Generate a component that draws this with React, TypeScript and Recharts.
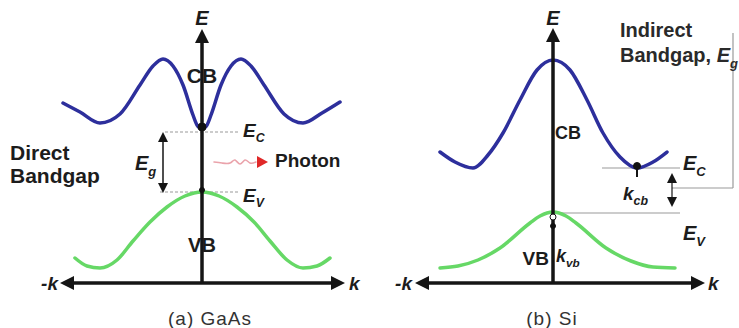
import React from 'react'
import { LineChart, Line, XAxis, YAxis, ReferenceLine, ReferenceDot } from 'recharts'

// band shapes; k and E in arbitrary units (origin at the axes crossing)
const gaasCB = [
  { k: -1.39, e: 1.8 }, { k: -1.22, e: 1.71 }, { k: -1.02, e: 1.6 }, { k: -0.82, e: 1.69 },
  { k: -0.62, e: 1.98 }, { k: -0.49, e: 2.17 }, { k: -0.39, e: 2.24 }, { k: -0.29, e: 2.17 },
  { k: -0.19, e: 1.98 }, { k: -0.09, e: 1.68 }, { k: -0.05, e: 1.58 }, { k: 0, e: 1.54 },
  { k: 0.05, e: 1.58 }, { k: 0.09, e: 1.68 }, { k: 0.19, e: 1.98 }, { k: 0.29, e: 2.17 },
  { k: 0.39, e: 2.24 }, { k: 0.49, e: 2.17 }, { k: 0.62, e: 1.98 }, { k: 0.82, e: 1.69 },
  { k: 1.01, e: 1.6 }, { k: 1.2, e: 1.7 }, { k: 1.38, e: 1.81 },
]
const gaasVB = [
  { k: -1.27, e: 0.25 }, { k: -1.15, e: 0.17 }, { k: -1.02, e: 0.15 }, { k: -0.85, e: 0.23 },
  { k: -0.69, e: 0.42 }, { k: -0.52, e: 0.61 }, { k: -0.35, e: 0.76 }, { k: -0.17, e: 0.87 },
  { k: 0, e: 0.91 }, { k: 0.17, e: 0.87 }, { k: 0.35, e: 0.76 }, { k: 0.52, e: 0.61 },
  { k: 0.68, e: 0.42 }, { k: 0.85, e: 0.23 }, { k: 1.01, e: 0.15 }, { k: 1.15, e: 0.17 },
  { k: 1.28, e: 0.25 },
]
const siCB = [
  { k: -1.13, e: 1.31 }, { k: -0.98, e: 1.21 }, { k: -0.8, e: 1.15 }, { k: -0.65, e: 1.28 },
  { k: -0.5, e: 1.5 }, { k: -0.33, e: 1.83 }, { k: -0.16, e: 2.13 }, { k: 0, e: 2.23 },
  { k: 0.17, e: 2.13 }, { k: 0.34, e: 1.83 }, { k: 0.5, e: 1.5 }, { k: 0.67, e: 1.26 },
  { k: 0.84, e: 1.15 }, { k: 1.0, e: 1.21 }, { k: 1.14, e: 1.31 },
]
const siVB = [
  { k: -1.13, e: 0.15 }, { k: -0.95, e: 0.17 }, { k: -0.75, e: 0.23 }, { k: -0.53, e: 0.35 },
  { k: -0.23, e: 0.6 }, { k: -0.13, e: 0.67 }, { k: 0, e: 0.71 }, { k: 0.13, e: 0.67 },
  { k: 0.23, e: 0.6 }, { k: 0.53, e: 0.35 }, { k: 0.78, e: 0.22 }, { k: 1.0, e: 0.16 },
  { k: 1.22, e: 0.15 },
]
const photonWave = [
  { k: 0.12, e: 1.21 }, { k: 0.2, e: 1.2 }, { k: 0.28, e: 1.2 }, { k: 0.33, e: 1.23 },
  { k: 0.38, e: 1.19 }, { k: 0.43, e: 1.23 }, { k: 0.48, e: 1.2 }, { k: 0.54, e: 1.21 },
]

const AXIS = '#151515'
const GREY = '#9a9a9a'
const BLUE = '#2d2f9c'
const GREEN = '#66d866'
const FONT = '"Liberation Sans", Arial, sans-serif'
const H = 328
const E_DOMAIN = [-0.45, 2.83]

type Part = { t: string; i?: boolean; sub?: boolean }
type Lbl = { k: number; e: number; parts: Part[]; size: number; bold?: boolean; anchor?: 'start' | 'middle' | 'end'; color?: string; spacing?: number }

function arrowHead(dir: string, len: number, half: number) {
  return (p: any) => {
    const { cx, cy } = p
    if (cx == null || cy == null) return <g />
    let pts = ''
    if (dir === 'up') pts = `${cx},${cy} ${cx - half},${cy + len} ${cx + half},${cy + len}`
    if (dir === 'down') pts = `${cx},${cy} ${cx - half},${cy - len} ${cx + half},${cy - len}`
    if (dir === 'left') pts = `${cx},${cy} ${cx + len},${cy - half} ${cx + len},${cy + half}`
    if (dir === 'right') pts = `${cx},${cy} ${cx - len},${cy - half} ${cx - len},${cy + half}`
    return <polygon points={pts} fill={AXIS} />
  }
}

function redHead(p: any) {
  const { cx, cy } = p
  return <polygon points={`${cx},${cy} ${cx - 11},${cy - 6} ${cx - 11},${cy + 6}`} fill="#e02828" />
}

function renderLabel(p: any, l: Lbl) {
  const { cx, cy } = p
  return (
    <text x={cx} y={cy} fontFamily={FONT} fontSize={l.size} fontWeight={l.bold ? 'bold' : 'normal'}
      textAnchor={l.anchor || 'start'} fill={l.color || '#1c1c1c'} letterSpacing={l.spacing || 0}>
      {l.parts.map((pt, i) => (
        <tspan key={i} fontStyle={pt.i ? 'italic' : 'normal'}
          fontSize={pt.sub ? l.size * 0.65 : l.size} dy={pt.sub ? l.size * 0.28 : 0}>{pt.t}</tspan>
      ))}
    </text>
  )
}

const labels = (list: Lbl[], tag: string) =>
  list.map((l, i) => (
    <ReferenceDot key={tag + i} x={l.k} y={l.e} r={0} ifOverflow="visible" shape={(p: any) => renderLabel(p, l)} />
  ))

const seg = (a: number[], b: number[], key: string, stroke = GREY, width = 1, dash?: string) => (
  <ReferenceLine key={key} segment={[{ x: a[0], y: a[1] }, { x: b[0], y: b[1] }]} stroke={stroke}
    strokeWidth={width} strokeDasharray={dash} ifOverflow="visible" />
)

const head = (k: number, e: number, dir: string, len: number, half: number, key: string) => (
  <ReferenceDot key={key} x={k} y={e} r={0} ifOverflow="visible" shape={arrowHead(dir, len, half)} />
)

const dot = (k: number, e: number, r: number, key: string, open = false) => (
  <ReferenceDot key={key} x={k} y={e} r={r} fill={open ? '#fff' : '#111'} stroke="#111" strokeWidth={1} ifOverflow="visible" />
)

const band = (data: { k: number; e: number }[], color: string, w = 3.5, type: any = 'monotone') => (
  <Line data={data} dataKey="e" type={type} stroke={color} strokeWidth={w} strokeLinecap="round"
    dot={false} activeDot={false} isAnimationActive={false} />
)

const gaasLabels: Lbl[] = [
  { k: 0, e: 2.58, parts: [{ t: 'E', i: true }], size: 20, bold: true, anchor: 'middle' },
  { k: 0, e: 2.0, parts: [{ t: 'CB' }], size: 21, bold: true, anchor: 'middle' },
  { k: 0, e: 0.31, parts: [{ t: 'VB' }], size: 20, bold: true, anchor: 'middle' },
  { k: -1.44, e: -0.07, parts: [{ t: '-k', i: true }], size: 19, bold: true, anchor: 'end' },
  { k: 1.47, e: -0.07, parts: [{ t: 'k', i: true }], size: 19, bold: true },
  { k: 0.08, e: -0.42, parts: [{ t: '(a) GaAs' }], size: 19, anchor: 'middle', color: '#333', spacing: 1 },
  { k: -1.92, e: 1.23, parts: [{ t: 'Direct' }], size: 21, bold: true },
  { k: -1.92, e: 1.0, parts: [{ t: 'Bandgap' }], size: 21, bold: true },
  { k: -0.67, e: 1.13, parts: [{ t: 'E', i: true }, { t: 'g', i: true, sub: true }], size: 20, bold: true },
  { k: 0.41, e: 1.46, parts: [{ t: 'E', i: true }, { t: 'C', i: true, sub: true }], size: 19, bold: true },
  { k: 0.41, e: 0.81, parts: [{ t: 'E', i: true }, { t: 'V', i: true, sub: true }], size: 19, bold: true },
  { k: 0.73, e: 1.16, parts: [{ t: 'Photon' }], size: 19, bold: true },
]

const siLabels: Lbl[] = [
  { k: 0, e: 2.58, parts: [{ t: 'E', i: true }], size: 20, bold: true, anchor: 'middle' },
  { k: 0.67, e: 2.46, parts: [{ t: 'Indirect' }], size: 20, bold: true, color: '#2a2a2a' },
  { k: 0.67, e: 2.21, parts: [{ t: 'Bandgap, ' }, { t: 'E', i: true }, { t: 'g', i: true, sub: true }], size: 20, bold: true, color: '#2a2a2a' },
  { k: 0.02, e: 1.44, parts: [{ t: 'CB' }], size: 18, bold: true },
  { k: -0.04, e: 0.18, parts: [{ t: 'VB' }], size: 19, bold: true, anchor: 'end' },
  { k: 0.03, e: 0.21, parts: [{ t: 'k', i: true }, { t: 'vb', i: true, sub: true }], size: 18, bold: true },
  { k: 0.7, e: 0.83, parts: [{ t: 'k', i: true }, { t: 'cb', i: true, sub: true }], size: 19, bold: true },
  { k: 1.3, e: 1.13, parts: [{ t: 'E', i: true }, { t: 'C', i: true, sub: true }], size: 20, bold: true },
  { k: 1.3, e: 0.43, parts: [{ t: 'E', i: true }, { t: 'V', i: true, sub: true }], size: 20, bold: true },
  { k: -1.41, e: -0.07, parts: [{ t: '-k', i: true }], size: 19, bold: true, anchor: 'end' },
  { k: 1.55, e: -0.07, parts: [{ t: 'k', i: true }], size: 19, bold: true },
  { k: -0.01, e: -0.42, parts: [{ t: '(b) Si' }], size: 19, anchor: 'middle', color: '#333', spacing: 1 },
]

function GaAsPanel() {
  return (
    <LineChart width={370} height={H} margin={{ top: 0, right: 0, bottom: 0, left: 0 }}>
      <XAxis type="number" dataKey="k" domain={[-2.02, 1.68]} hide allowDataOverflow />
      <YAxis type="number" dataKey="e" domain={E_DOMAIN} hide allowDataOverflow />
      {seg([-0.37, 1.51], [0.38, 1.51], 'ec', GREY, 1.2, '3 2')}
      {seg([-0.42, 0.91], [0.38, 0.91], 'ev', GREY, 1.2, '3 2')}
      {seg([-0.39, 1.45], [-0.39, 0.96], 'eg', AXIS, 1.5)}
      {head(-0.39, 1.51, 'up', 10, 5, 'egu')}
      {head(-0.39, 0.9, 'down', 10, 5, 'egd')}
      {band(photonWave, '#eaa3ab', 1.6, 'natural')}
      <ReferenceDot x={0.66} y={1.21} r={0} ifOverflow="visible" shape={redHead} />
      {band(gaasCB, BLUE)}
      {band(gaasVB, GREEN)}
      {seg([-1.36, 0], [1.37, 0], 'kx', AXIS, 3.5)}
      {seg([0, 0], [0, 2.48], 'ey', AXIS, 3.5)}
      {head(-1.42, 0, 'left', 14, 7, 'hl')}
      {head(1.43, 0, 'right', 14, 7, 'hr')}
      {head(0, 2.54, 'up', 14, 7, 'hu')}
      {dot(0, 1.56, 4, 'd1')}
      {dot(0, 0.93, 2.5, 'd2')}
      {labels(gaasLabels, 'ga')}
    </LineChart>
  )
}

function SiPanel() {
  return (
    <LineChart width={369} height={H} margin={{ top: 0, right: 0, bottom: 0, left: 0 }}>
      <XAxis type="number" dataKey="k" domain={[-1.83, 1.86]} hide allowDataOverflow />
      <YAxis type="number" dataKey="e" domain={E_DOMAIN} hide allowDataOverflow />
      {seg([0.49, 1.15], [1.27, 1.15], 'ec', GREY, 1.2)}
      {seg([0, 0.7], [1.27, 0.7], 'ev', GREY, 1.2)}
      {seg([1.19, 0.95], [1.8, 0.95], 'br1', GREY, 1.2)}
      {seg([1.8, 0.95], [1.8, 2.5], 'br2', GREY, 1.2)}
      {seg([1.19, 1.02], [1.19, 0.84], 'eg', AXIS, 1.2)}
      {head(1.19, 1.1, 'up', 10, 5, 'egu')}
      {head(1.19, 0.76, 'down', 10, 5, 'egd')}
      {band(siCB, BLUE)}
      {band(siVB, GREEN)}
      {seg([-1.32, 0], [1.46, 0], 'kx', AXIS, 3.5)}
      {seg([0, 0], [0, 2.49], 'ey', AXIS, 3.5)}
      {head(-1.38, 0, 'left', 14, 7, 'hl')}
      {head(1.52, 0, 'right', 14, 7, 'hr')}
      {head(0, 2.55, 'up', 14, 7, 'hu')}
      {seg([0.84, 1.16], [0.84, 1.06], 'tick', AXIS, 2)}
      {dot(0.84, 1.17, 3.5, 'd1')}
      {dot(0, 0.66, 3, 'd2', true)}
      {dot(0, 0.57, 2.5, 'd3')}
      {labels(siLabels, 'si')}
    </LineChart>
  )
}

export default function App() {
  return (
    <div style={{ position: 'absolute', left: 0, top: 0, width: 739, height: H, background: '#fff', overflow: 'hidden' }}>
      <div style={{ position: 'absolute', left: 0, top: 0 }}>
        <GaAsPanel />
      </div>
      <div style={{ position: 'absolute', left: 370, top: 0 }}>
        <SiPanel />
      </div>
    </div>
  )
}
